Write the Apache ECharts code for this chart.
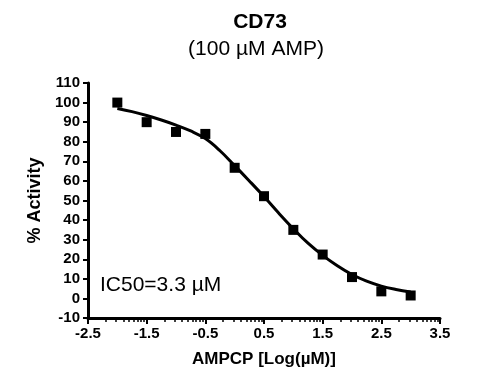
<!DOCTYPE html>
<html>
<head>
<meta charset="utf-8">
<script src="https://cdn.jsdelivr.net/npm/echarts@6/dist/echarts.min.js"></script>
<style>html,body{margin:0;padding:0;background:#fff;}#c{width:477px;height:385px;}</style>
</head>
<body>
<div id="c"></div>
<script>
// Data
const logConc = [-2, -1.5, -1, -0.5, 0, 0.5, 1, 1.5, 2, 2.5, 3];
const activity = [100, 90, 85, 84, 66.7, 52.2, 35, 22.4, 10.9, 3.6, 1.5];
// Fitted curve
const curveX = [-2, -1.75, -1.5, -1.25, -1, -0.75, -0.5, -0.25, 0, 0.25, 0.5, 0.75, 1, 1.25, 1.5, 1.75, 2, 2.25, 2.5, 2.75, 3];
const curveY = [97, 95.4, 93.4, 91.1, 88.5, 85.5, 81.6, 75.4, 67.8, 60, 52, 43.6, 35.6, 28.2, 22, 16.7, 12.2, 8.8, 6.3, 4.6, 3.3];
const xTickLabels = [-2.5, -1.5, -0.5, 0.5, 1.5, 2.5, 3.5];
const yTickLabels = [-10, 0, 10, 20, 30, 40, 50, 60, 70, 80, 90, 100, 110];
const minorFactors = [2, 3, 4, 5, 6, 7, 8, 9];

const FONT = "'Liberation Sans', Arial, Helvetica, sans-serif";
const minorTicks = [];
for (let i = 0; i < xTickLabels.length - 1; i++) {
  minorFactors.forEach(k => minorTicks.push(xTickLabels[i] + Math.log10(k)));
}

const chart = echarts.init(document.getElementById('c'), null, {renderer: 'canvas'});
chart.setOption({
  animation: false,
  backgroundColor: '#fff',
  grid: {left: 88, top: 83, width: 352, height: 235, containLabel: false},
  xAxis: [{
    type: 'value', min: -2.5, max: 3.5, interval: 1,
    name: 'AMPCP [Log(µM)]', nameLocation: 'middle', nameGap: 33,
    nameTextStyle: {fontFamily: FONT, fontWeight: 'bold', fontSize: 17, color: '#000'},
    axisLine: {show: true, onZero: false, lineStyle: {color: '#000', width: 3}},
    axisTick: {show: true, length: 6, lineStyle: {color: '#000', width: 2}, customValues: xTickLabels},
    axisLabel: {fontFamily: FONT, fontWeight: 'bold', fontSize: 15, color: '#000', margin: 8,
      customValues: xTickLabels, formatter: v => v.toFixed(1)},
    splitLine: {show: false}
  }, {
    type: 'value', min: -2.5, max: 3.5, position: 'bottom',
    axisLine: {show: false, onZero: false},
    axisTick: {show: true, length: 4, lineStyle: {color: '#000', width: 1.5}, customValues: minorTicks},
    axisLabel: {show: false},
    splitLine: {show: false}
  }],
  yAxis: {
    type: 'value', min: -10, max: 110, interval: 10,
    name: '% Activity', nameLocation: 'middle', nameGap: 43, nameRotate: 90,
    nameTextStyle: {fontFamily: FONT, fontWeight: 'bold', fontSize: 18, color: '#000'},
    axisLine: {show: true, onZero: false, lineStyle: {color: '#000', width: 3}},
    axisTick: {show: true, length: 5, lineStyle: {color: '#000', width: 2}},
    axisLabel: {fontFamily: FONT, fontWeight: 'bold', fontSize: 15, color: '#000', margin: 8,
      customValues: yTickLabels},
    splitLine: {show: false}
  },
  series: [{
    type: 'line', xAxisIndex: 0,
    data: curveX.map((x, i) => [x, curveY[i]]),
    smooth: 0.4, showSymbol: false, symbol: 'none',
    lineStyle: {color: '#000', width: 3}, z: 2
  }, {
    type: 'scatter', xAxisIndex: 0,
    data: logConc.map((x, i) => [x, activity[i]]),
    symbol: 'rect', symbolSize: 10,
    itemStyle: {color: '#000', opacity: 1}, z: 3
  }],
  graphic: [
    {type: 'text', x: 260, y: 22, style: {text: 'CD73', font: "bold 21px " + FONT, fill: '#000', textAlign: 'center', textVerticalAlign: 'middle'}},
    {type: 'text', x: 256, y: 49, style: {text: '(100 µM AMP)', font: "21px " + FONT, fill: '#000', textAlign: 'center', textVerticalAlign: 'middle'}},
    {type: 'text', x: 100, y: 285, style: {text: 'IC50=3.3 µM', font: "21px " + FONT, fill: '#000', textAlign: 'left', textVerticalAlign: 'middle'}}
  ]
});
</script>
</body>
</html>
